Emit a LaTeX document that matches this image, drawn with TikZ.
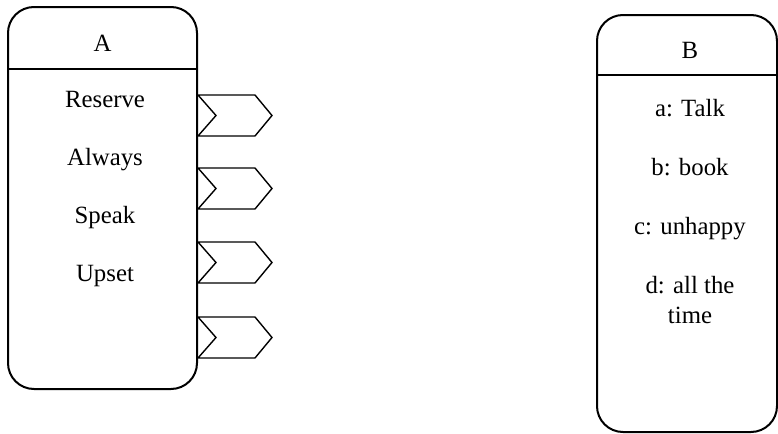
\documentclass[tikz,border=0pt]{standalone}
\usepackage{fontspec}
\setmainfont{Liberation Serif}
\usepackage{tikz}
\usetikzlibrary{positioning, calc}

\begin{document}
\begin{tikzpicture}[x=0.5pt, y=-0.5pt,
    panel/.style={draw, line width=1pt, rounded corners=13pt, minimum width=#1},
    label/.style={font=\fontsize{12.4}{15}\selectfont, inner sep=0pt, align=center,
                  text height=1.6ex, text depth=0.4ex},
    tag/.style={draw, line width=0.7pt, fill=white, line join=miter}]
  \useasboundingbox (0,0) rectangle (778,434);

  % left panel
  \node[panel=94.5pt, minimum height=191pt] (boxA) at (102.5,198) {};
  \draw[line width=1pt] ($(boxA.north west)+(0,-31.5pt)$) coordinate (divA)
    -- (divA -| boxA.east);
  \node[label] (titleA) at (102.5,46) {A};
  \node[label] (reserve) at (105,102) {Reserve};
  \node[label, below=29pt of reserve.center, anchor=center] (always) {Always};
  \node[label, below=29pt of always.center, anchor=center] (speak) {Speak};
  \node[label, below=29pt of speak.center, anchor=center] (upset) {Upset};

  % tags on the right edge of A
  \foreach \t in {95,168,242,317} {
    \draw[tag] (198,\t) -- (255,\t) -- (272,\t+20.5) -- (255,\t+41)
      -- (198,\t+41) -- (216,\t+20.5) -- cycle;
  }

  % right panel
  \node[panel=90pt, minimum height=208.5pt] (boxB) at (687,223.5) {};
  \draw[line width=1pt] ($(boxB.north west)+(0,-30.5pt)$) coordinate (divB)
    -- (divB -| boxB.east);
  \node[label] (titleB) at (690,53) {B};
  \node[label] (talk) at (690,111) {a: Talk};
  \node[label, below=29.5pt of talk.center, anchor=center] (book) {b: book};
  \node[label, below=29.5pt of book.center, anchor=center] (unhappy) {c: unhappy};
  \node[font=\fontsize{12.4}{15}\selectfont, inner sep=0pt, align=center]
    (alltime) at (690,300) {d: all the\\time};
\end{tikzpicture}
\end{document}
